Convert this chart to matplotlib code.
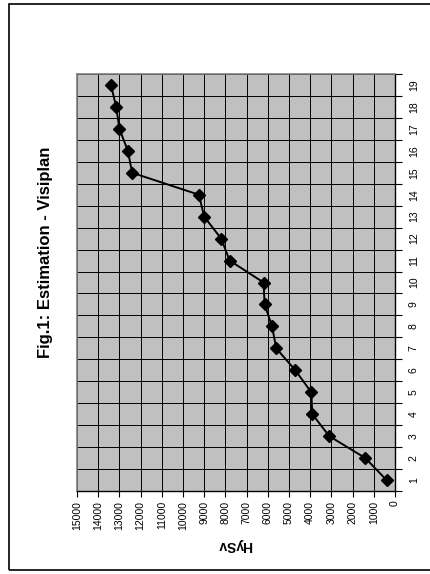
import matplotlib
matplotlib.use("Agg")
import matplotlib.pyplot as plt
from matplotlib.patches import Rectangle
import numpy as np

plt.rcParams['font.family'] = ['Liberation Sans', 'DejaVu Sans']

# data
categories = list(range(1, 20))
dose = [400, 1400, 3100, 3900, 3950, 4700, 5600, 5800, 6150, 6200,
        7800, 8200, 9000, 9250, 12400, 12600, 13000, 13150, 13400]
value_ticks = list(range(0, 16000, 1000))

title = "Fig.1: Estimation - Visiplan"
value_label = "HySv"

fig = plt.figure(figsize=(4.3, 5.74), dpi=100)

# outer frame
fig.patches.append(Rectangle((9 / 430, 4 / 574), 1.0, (570 - 4) / 574,
                             transform=fig.transFigure, fill=False,
                             edgecolor="black", linewidth=1.2))

ax = fig.add_axes([77 / 430, 1 - 491 / 574, (395 - 77) / 430, (491 - 74) / 574])
ax.set_facecolor("#c0c0c0")

# chart is turned on its side: values run right-to-left, categories bottom-to-top
ax.plot(dose, categories, color="black", linewidth=1.4, marker="D",
        markersize=6, markerfacecolor="black", markeredgecolor="black")

ax.set_xlim(15000, 0)
ax.set_ylim(0.5, len(categories) + 0.5)

ax.set_xticks(value_ticks)
ax.set_xticklabels([str(v) for v in value_ticks], rotation=90, fontsize=7.5)
ax.tick_params(axis="x", direction="out", length=4, width=0.8, pad=3, color="black")

# category ticks at boundaries, labels in the middle
bounds = np.arange(0.5, len(categories) + 1, 1)
ax.set_yticks(bounds)
ax.set_yticklabels([])
ax.set_yticks(categories, minor=True)
ax.set_yticklabels([str(c) for c in categories], minor=True, rotation=90,
                   fontsize=7.5, va="center")
ax.yaxis.tick_right()
ax.tick_params(axis="y", which="major", direction="out", length=5, width=0.8,
               left=False, right=True)
ax.tick_params(axis="y", which="minor", length=0, pad=10, left=False, right=True)

ax.grid(True, which="major", color="black", linewidth=0.7)
ax.set_axisbelow(True)

for side in ["top", "left"]:
    ax.spines[side].set_color("#808080")
    ax.spines[side].set_linewidth(1.2)
for side in ["bottom", "right"]:
    ax.spines[side].set_color("black")
    ax.spines[side].set_linewidth(1.0)

fig.text(46 / 430, 1 - 252 / 574, title, rotation=90, fontsize=12,
         fontweight="bold", ha="center", va="center")
fig.text(235 / 430, 1 - 545 / 574, value_label, rotation=180, fontsize=10,
         fontweight="bold", ha="center", va="center")

fig.savefig("out.png", dpi=100)
